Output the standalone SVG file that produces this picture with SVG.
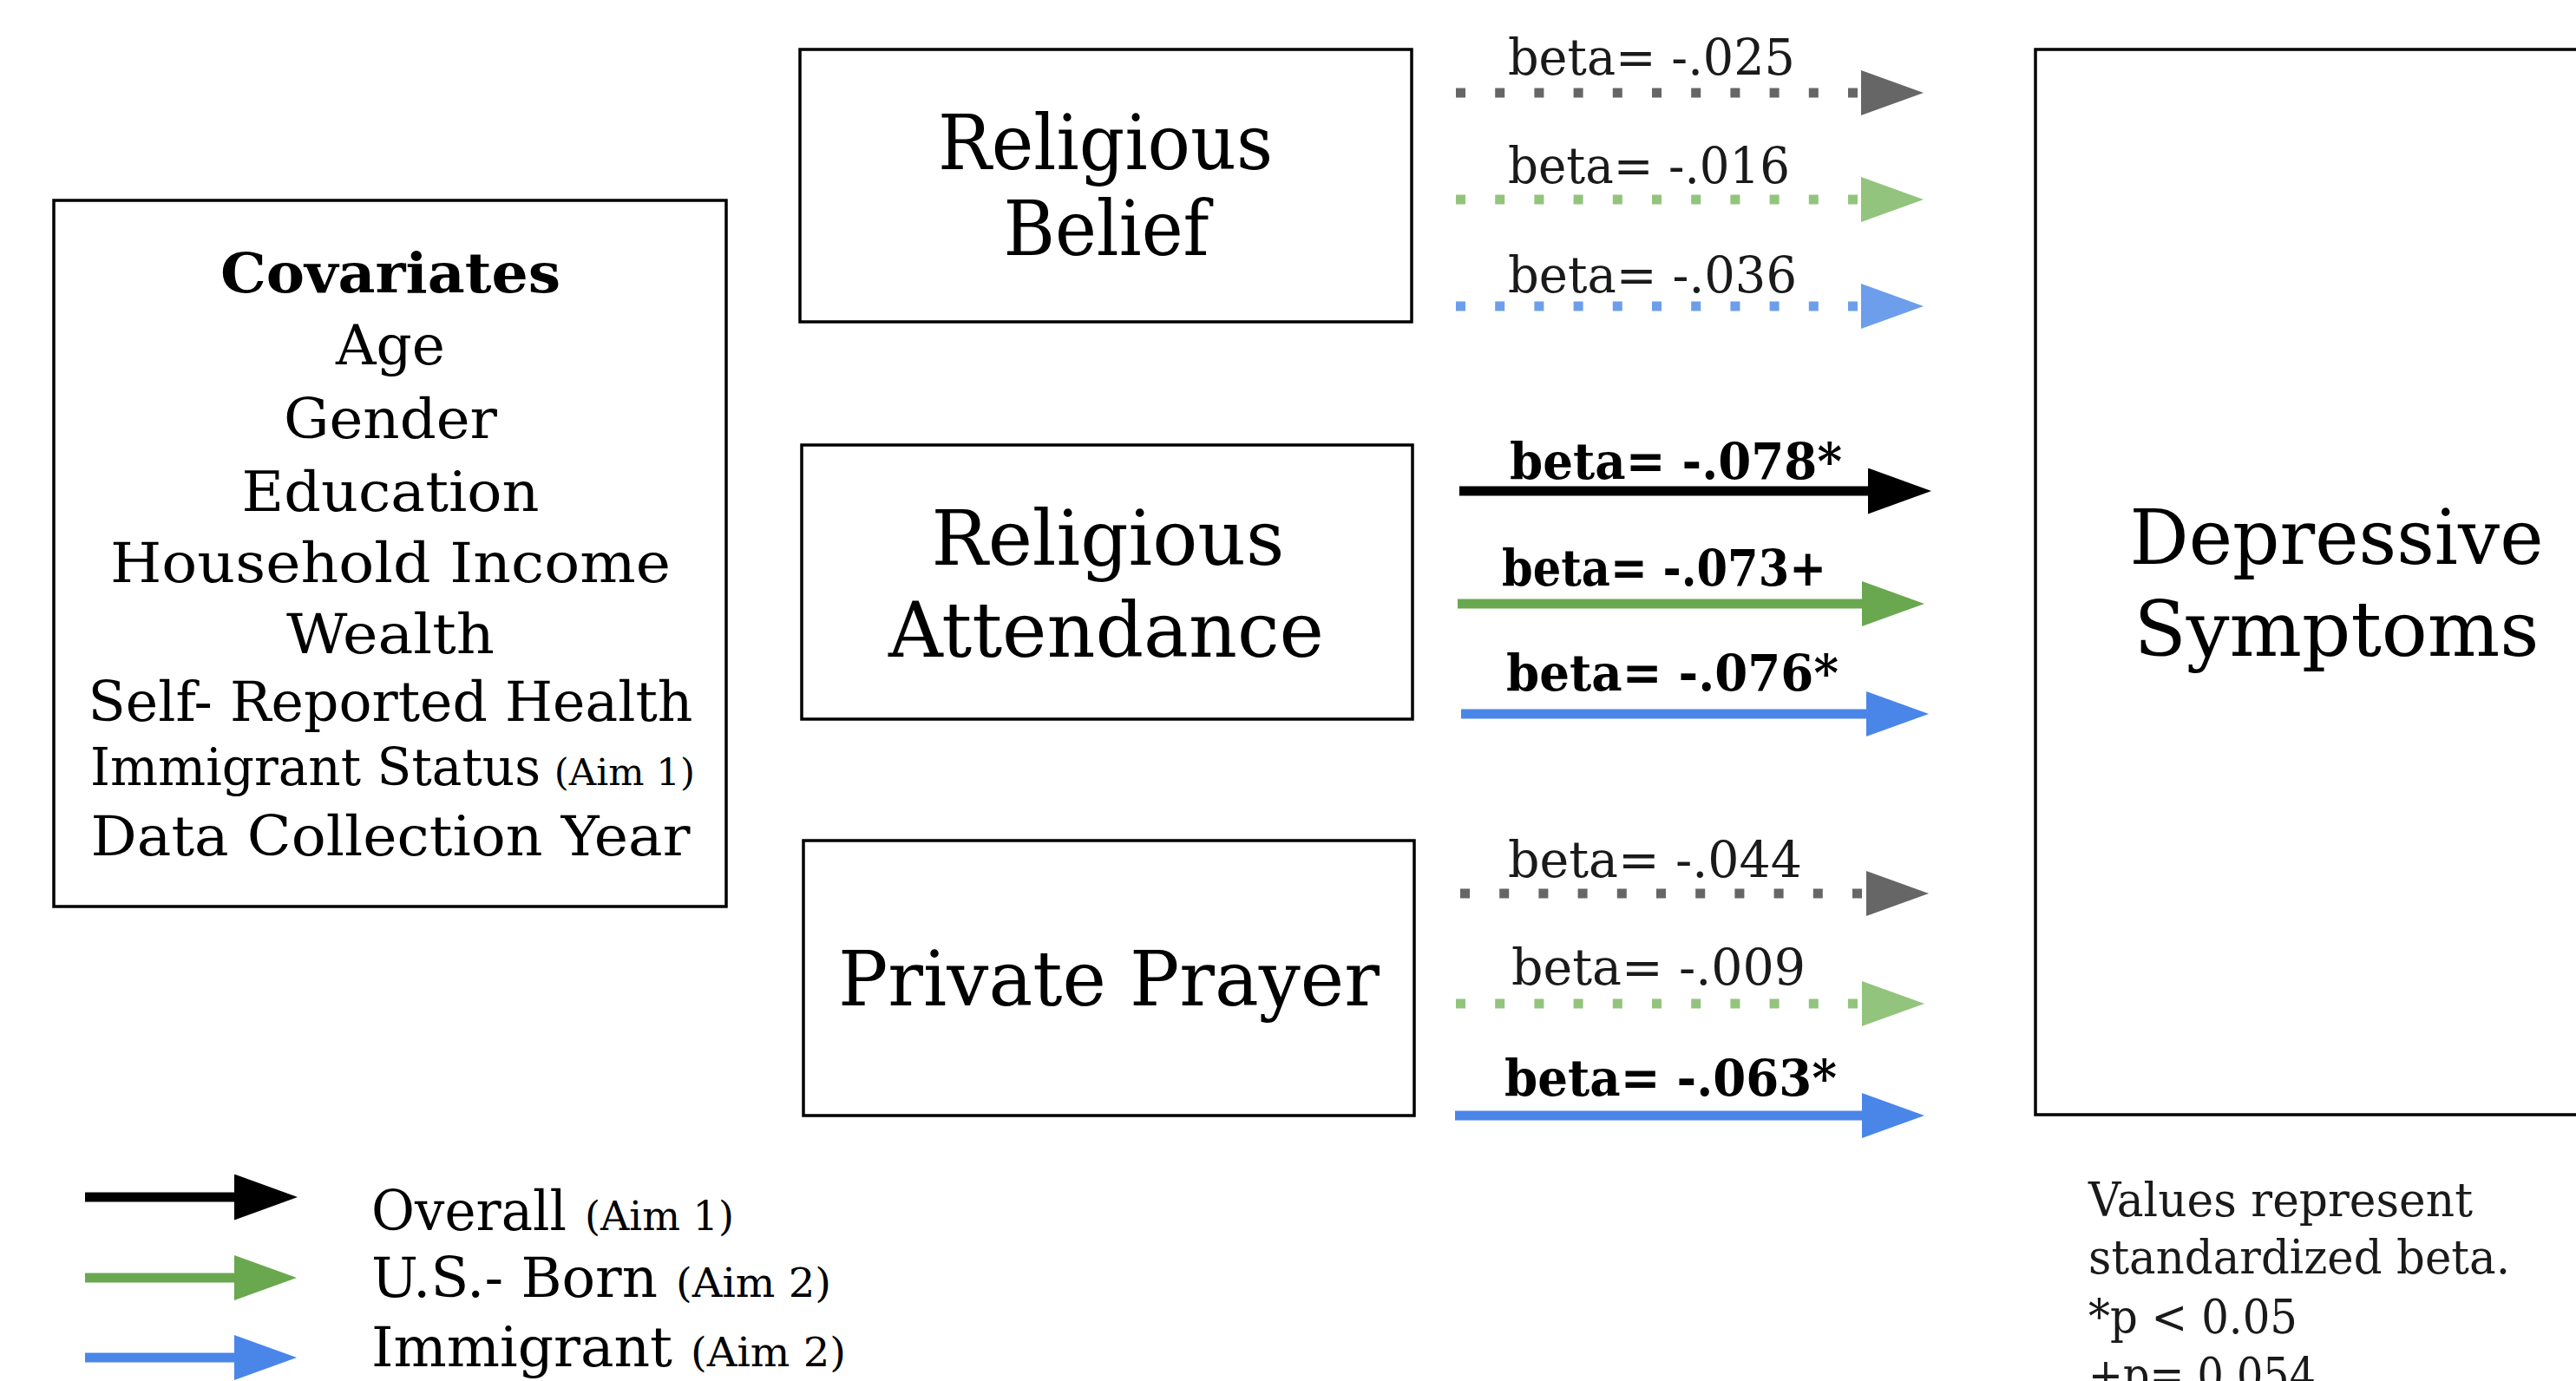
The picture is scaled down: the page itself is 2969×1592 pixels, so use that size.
<svg xmlns="http://www.w3.org/2000/svg" width="2969" height="1592" viewBox="0 0 2969 1592">
<style>
  text { font-family: "DejaVu Serif", "Liberation Serif", serif; fill: #000; }
  .box { fill: #fff; stroke: #000; stroke-width: 3.5; }
  .node { font-size: 88px; text-anchor: middle; }
  .cov { font-size: 64px; text-anchor: middle; }
  .lbl { font-size: 58px; fill: #1a1a1a; }
  .lblb { font-size: 58px; font-weight: bold; }
  .leg { font-size: 64px; }
  .aim { font-size: 46px; }
  .note { font-size: 55px; fill: #1a1a1a; }
  .dot { stroke-width: 11; stroke-dasharray: 11 34.2; fill: none; }
  .solid { stroke-width: 11; fill: none; }
</style>
<defs>
  <marker id="hGray" markerUnits="userSpaceOnUse" markerWidth="72" markerHeight="52" viewBox="0 0 72 52" refX="0" refY="26" orient="auto"><polygon points="0,0 72,26 0,52" fill="#666666"/></marker>
  <marker id="hGreenL" markerUnits="userSpaceOnUse" markerWidth="72" markerHeight="52" viewBox="0 0 72 52" refX="0" refY="26" orient="auto"><polygon points="0,0 72,26 0,52" fill="#93c47d"/></marker>
  <marker id="hBlueL" markerUnits="userSpaceOnUse" markerWidth="72" markerHeight="52" viewBox="0 0 72 52" refX="0" refY="26" orient="auto"><polygon points="0,0 72,26 0,52" fill="#6d9eeb"/></marker>
  <marker id="hBlack" markerUnits="userSpaceOnUse" markerWidth="73" markerHeight="53" viewBox="0 0 73 53" refX="0" refY="26.5" orient="auto"><polygon points="0,0 73,26.5 0,53" fill="#000"/></marker>
  <marker id="hGreen" markerUnits="userSpaceOnUse" markerWidth="72" markerHeight="52" viewBox="0 0 72 52" refX="0" refY="26" orient="auto"><polygon points="0,0 72,26 0,52" fill="#6aa84f"/></marker>
  <marker id="hBlue" markerUnits="userSpaceOnUse" markerWidth="72" markerHeight="52" viewBox="0 0 72 52" refX="0" refY="26" orient="auto"><polygon points="0,0 72,26 0,52" fill="#4a86e8"/></marker>
</defs>
<rect width="2969" height="1592" fill="#fff"/>

<g id="covariates">
  <rect class="box" x="62" y="231" width="775" height="814"/>
  <text class="cov" x="450" y="337" font-weight="bold" font-size="72" textLength="392" lengthAdjust="spacingAndGlyphs">Covariates</text>
  <text class="cov" x="450" y="420" textLength="126" lengthAdjust="spacingAndGlyphs">Age</text>
  <text class="cov" x="450" y="505" textLength="246" lengthAdjust="spacingAndGlyphs">Gender</text>
  <text class="cov" x="450" y="589" textLength="343" lengthAdjust="spacingAndGlyphs">Education</text>
  <text class="cov" x="450" y="671" textLength="646" lengthAdjust="spacingAndGlyphs">Household Income</text>
  <text class="cov" x="450" y="753" textLength="240" lengthAdjust="spacingAndGlyphs">Wealth</text>
  <text class="cov" x="450" y="831" textLength="697" lengthAdjust="spacingAndGlyphs">Self- Reported Health</text>
  <text x="104" y="905" font-size="60"><tspan textLength="519" lengthAdjust="spacingAndGlyphs">Immigrant Status</tspan><tspan x="625" font-size="42" textLength="176" lengthAdjust="spacingAndGlyphs"> (Aim 1)</tspan></text>
  <text class="cov" x="450" y="986" font-size="68" textLength="691" lengthAdjust="spacingAndGlyphs">Data Collection Year</text>
</g>

<g id="religious-belief">
  <rect class="box" x="922" y="57" width="705" height="314"/>
  <text class="node" x="1274" y="195" textLength="386" lengthAdjust="spacingAndGlyphs">Religious</text>
  <text class="node" x="1275" y="294" textLength="237" lengthAdjust="spacingAndGlyphs">Belief</text>
</g>

<g id="religious-attendance">
  <rect class="box" x="924" y="513" width="704" height="316"/>
  <text class="node" x="1277" y="651" textLength="407" lengthAdjust="spacingAndGlyphs">Religious</text>
  <text class="node" x="1275" y="757" textLength="502" lengthAdjust="spacingAndGlyphs">Attendance</text>
</g>

<g id="private-prayer">
  <rect class="box" x="926" y="969" width="704" height="317"/>
  <text class="node" x="1278" y="1159" textLength="624" lengthAdjust="spacingAndGlyphs">Private Prayer</text>
</g>

<g id="depressive-symptoms">
  <rect class="box" x="2346" y="57" width="700" height="1228"/>
  <text class="node" x="2693" y="650" font-size="90" textLength="477" lengthAdjust="spacingAndGlyphs">Depressive</text>
  <text class="node" x="2693" y="756" font-size="90" textLength="467" lengthAdjust="spacingAndGlyphs">Symptoms</text>
</g>

<g id="connectors">
  <line class="dot" x1="1678" y1="107" x2="2145" y2="107" stroke="#666666" marker-end="url(#hGray)"/>
  <line class="dot" x1="1678" y1="230" x2="2145" y2="230" stroke="#93c47d" marker-end="url(#hGreenL)"/>
  <line class="dot" x1="1678" y1="353" x2="2145" y2="353" stroke="#6d9eeb" marker-end="url(#hBlueL)"/>

  <line class="solid" x1="1682" y1="566" x2="2153" y2="566" stroke="#000" marker-end="url(#hBlack)"/>
  <line class="solid" x1="1680" y1="696" x2="2146" y2="696" stroke="#6aa84f" marker-end="url(#hGreen)"/>
  <line class="solid" x1="1684" y1="823" x2="2151" y2="823" stroke="#4a86e8" marker-end="url(#hBlue)"/>

  <line class="dot" x1="1683" y1="1030" x2="2151" y2="1030" stroke="#666666" marker-end="url(#hGray)"/>
  <line class="dot" x1="1678" y1="1157" x2="2146" y2="1157" stroke="#93c47d" marker-end="url(#hGreenL)"/>
  <line class="solid" x1="1677" y1="1286" x2="2146" y2="1286" stroke="#4a86e8" marker-end="url(#hBlue)"/>

  <text class="lbl" x="1738" y="86" textLength="331" lengthAdjust="spacingAndGlyphs">beta= -.025</text>
  <text class="lbl" x="1738" y="211" textLength="325" lengthAdjust="spacingAndGlyphs">beta= -.016</text>
  <text class="lbl" x="1738" y="337" textLength="333" lengthAdjust="spacingAndGlyphs">beta= -.036</text>
  <text class="lblb" x="1740" y="552" textLength="383" lengthAdjust="spacingAndGlyphs">beta= -.078*</text>
  <text class="lblb" x="1731" y="675" textLength="374" lengthAdjust="spacingAndGlyphs">beta= -.073+</text>
  <text class="lblb" x="1736" y="796" textLength="383" lengthAdjust="spacingAndGlyphs">beta= -.076*</text>
  <text class="lbl" x="1738" y="1011" textLength="339" lengthAdjust="spacingAndGlyphs">beta= -.044</text>
  <text class="lbl" x="1742" y="1135" textLength="339" lengthAdjust="spacingAndGlyphs">beta= -.009</text>
  <text class="lblb" x="1734" y="1263" textLength="383" lengthAdjust="spacingAndGlyphs">beta= -.063*</text>
</g>

<g id="legend">
  <line class="solid" x1="98" y1="1380" x2="270" y2="1380" stroke="#000" stroke-width="12" marker-end="url(#hBlack)"/>
  <line class="solid" x1="98" y1="1473" x2="270" y2="1473" stroke="#6aa84f" stroke-width="12" marker-end="url(#hGreen)"/>
  <line class="solid" x1="98" y1="1565" x2="270" y2="1565" stroke="#4a86e8" stroke-width="12" marker-end="url(#hBlue)"/>
  <text class="leg" x="428" y="1418"><tspan textLength="225" lengthAdjust="spacingAndGlyphs">Overall</tspan><tspan class="aim" x="674" textLength="172" lengthAdjust="spacingAndGlyphs">(Aim 1)</tspan></text>
  <text class="leg" x="428" y="1495"><tspan textLength="330" lengthAdjust="spacingAndGlyphs">U.S.- Born</tspan><tspan class="aim" x="779" textLength="179" lengthAdjust="spacingAndGlyphs">(Aim 2)</tspan></text>
  <text class="leg" x="428" y="1575"><tspan textLength="347" lengthAdjust="spacingAndGlyphs">Immigrant</tspan><tspan class="aim" x="796" textLength="179" lengthAdjust="spacingAndGlyphs">(Aim 2)</tspan></text>
</g>

<g id="note">
  <text class="note" x="2407" y="1402" textLength="443" lengthAdjust="spacingAndGlyphs">Values represent</text>
  <text class="note" x="2407" y="1468" textLength="486" lengthAdjust="spacingAndGlyphs">standardized beta.</text>
  <text class="note" x="2407" y="1537" textLength="241" lengthAdjust="spacingAndGlyphs">*p &lt; 0.05</text>
  <text class="note" x="2407" y="1604" textLength="262" lengthAdjust="spacingAndGlyphs">+p= 0.054</text>
</g>
</svg>
